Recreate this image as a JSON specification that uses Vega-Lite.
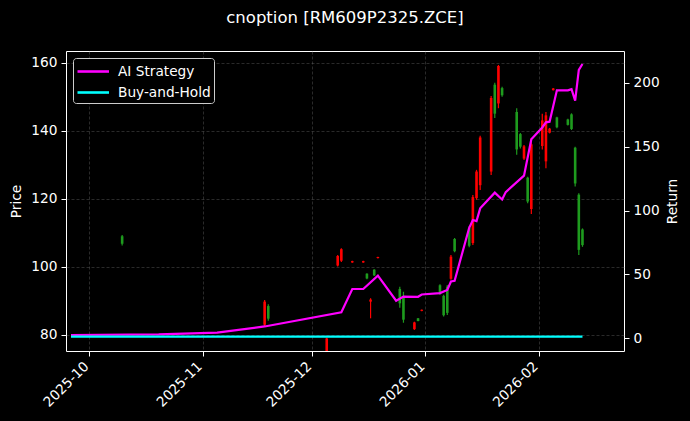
{
  "$schema": "https://vega.github.io/schema/vega-lite/v6.json",
  "width": 558,
  "height": 300,
  "autosize": {"type": "none"},
  "padding": {"left": 66, "top": 51, "right": 66, "bottom": 70},
  "background": "#000000",
  "title": {"text": "cnoption [RM609P2325.ZCE]", "anchor": "middle", "color": "white", "fontSize": 16.5, "font": "DejaVu Sans", "fontWeight": "normal", "offset": 12, "baseline": "alphabetic"},
  "datasets": {
    "candles": [
      {"date": "2025-10-10", "o": 109.0, "h": 109.4, "l": 106.3, "c": 106.8},
      {"date": "2025-11-18", "o": 83.0, "h": 90.3, "l": 82.6, "c": 89.8},
      {"date": "2025-11-19", "o": 88.5, "h": 89.0, "l": 84.2, "c": 84.8},
      {"date": "2025-12-05", "o": 74.0, "h": 79.2, "l": 73.0, "c": 79.0},
      {"date": "2025-12-08", "o": 100.4, "h": 103.5, "l": 100.1, "c": 103.2},
      {"date": "2025-12-09", "o": 101.8, "h": 105.5, "l": 101.4, "c": 105.2},
      {"date": "2025-12-12", "o": 101.3, "h": 101.8, "l": 101.2, "c": 101.7},
      {"date": "2025-12-15", "o": 101.3, "h": 101.8, "l": 101.2, "c": 101.7},
      {"date": "2025-12-16", "o": 98.0, "h": 98.1, "l": 96.4, "c": 96.6},
      {"date": "2025-12-17", "o": 89.8, "h": 90.8, "l": 84.9, "c": 90.4},
      {"date": "2025-12-18", "o": 99.2, "h": 99.3, "l": 97.3, "c": 97.5},
      {"date": "2025-12-19", "o": 102.6, "h": 103.0, "l": 102.5, "c": 102.9},
      {"date": "2025-12-25", "o": 93.5, "h": 94.2, "l": 88.0, "c": 89.3},
      {"date": "2025-12-26", "o": 91.5, "h": 92.7, "l": 83.6, "c": 84.5},
      {"date": "2025-12-29", "o": 81.7, "h": 83.9, "l": 81.5, "c": 83.7},
      {"date": "2025-12-30", "o": 84.9, "h": 85.0, "l": 84.0, "c": 84.1},
      {"date": "2025-12-31", "o": 87.1, "h": 87.5, "l": 87.0, "c": 87.4},
      {"date": "2026-01-05", "o": 94.6, "h": 94.9, "l": 91.8, "c": 92.0},
      {"date": "2026-01-06", "o": 91.5, "h": 91.8, "l": 85.4, "c": 85.8},
      {"date": "2026-01-07", "o": 94.2, "h": 94.7, "l": 85.9, "c": 86.5},
      {"date": "2026-01-08", "o": 96.5, "h": 103.5, "l": 96.2, "c": 103.0},
      {"date": "2026-01-09", "o": 108.2, "h": 108.5, "l": 104.3, "c": 104.6},
      {"date": "2026-01-13", "o": 111.5, "h": 112.0, "l": 105.8, "c": 106.2},
      {"date": "2026-01-14", "o": 107.0, "h": 121.1, "l": 106.4, "c": 120.5},
      {"date": "2026-01-15", "o": 120.2, "h": 128.5, "l": 119.7, "c": 128.0},
      {"date": "2026-01-16", "o": 124.0, "h": 138.5, "l": 122.6, "c": 138.0},
      {"date": "2026-01-19", "o": 128.0, "h": 150.2, "l": 127.0, "c": 149.6},
      {"date": "2026-01-20", "o": 153.5, "h": 154.1, "l": 143.7, "c": 145.0},
      {"date": "2026-01-21", "o": 148.0, "h": 159.3, "l": 146.6, "c": 159.0},
      {"date": "2026-01-22", "o": 152.5, "h": 152.9, "l": 150.0, "c": 150.4},
      {"date": "2026-01-26", "o": 145.5, "h": 146.6, "l": 132.9, "c": 134.5},
      {"date": "2026-01-27", "o": 139.0, "h": 139.3, "l": 134.8, "c": 135.3},
      {"date": "2026-01-28", "o": 131.8, "h": 135.8, "l": 131.4, "c": 135.4},
      {"date": "2026-01-29", "o": 126.2, "h": 126.5, "l": 118.7, "c": 119.2},
      {"date": "2026-01-30", "o": 117.0, "h": 137.8, "l": 115.5, "c": 136.0},
      {"date": "2026-02-02", "o": 135.5, "h": 145.0, "l": 134.5, "c": 143.0},
      {"date": "2026-02-03", "o": 131.0, "h": 145.5, "l": 129.0, "c": 144.5},
      {"date": "2026-02-04", "o": 139.4, "h": 140.8, "l": 139.2, "c": 140.6},
      {"date": "2026-02-05", "o": 151.9, "h": 152.5, "l": 151.8, "c": 152.4},
      {"date": "2026-02-06", "o": 143.9, "h": 144.1, "l": 140.7, "c": 141.0},
      {"date": "2026-02-09", "o": 143.3, "h": 143.5, "l": 141.5, "c": 141.7},
      {"date": "2026-02-10", "o": 144.8, "h": 145.1, "l": 140.2, "c": 140.5},
      {"date": "2026-02-11", "o": 135.0, "h": 135.3, "l": 123.6, "c": 124.5},
      {"date": "2026-02-12", "o": 121.2, "h": 121.6, "l": 103.5, "c": 105.0},
      {"date": "2026-02-13", "o": 111.0, "h": 111.3, "l": 105.9, "c": 106.4}
    ],
    "returns": [
      {"date": "2025-09-26", "series": "AI Strategy", "r": 2.6},
      {"date": "2025-10-20", "series": "AI Strategy", "r": 3.1},
      {"date": "2025-11-05", "series": "AI Strategy", "r": 4.5},
      {"date": "2025-11-18", "series": "AI Strategy", "r": 9.3},
      {"date": "2025-12-09", "series": "AI Strategy", "r": 20.4},
      {"date": "2025-12-12", "series": "AI Strategy", "r": 38.6},
      {"date": "2025-12-15", "series": "AI Strategy", "r": 38.6},
      {"date": "2025-12-19", "series": "AI Strategy", "r": 49.0},
      {"date": "2025-12-24", "series": "AI Strategy", "r": 29.4},
      {"date": "2025-12-26", "series": "AI Strategy", "r": 32.7},
      {"date": "2025-12-30", "series": "AI Strategy", "r": 32.5},
      {"date": "2025-12-31", "series": "AI Strategy", "r": 34.3},
      {"date": "2026-01-05", "series": "AI Strategy", "r": 35.4},
      {"date": "2026-01-07", "series": "AI Strategy", "r": 37.9},
      {"date": "2026-01-08", "series": "AI Strategy", "r": 44.5},
      {"date": "2026-01-09", "series": "AI Strategy", "r": 45.0},
      {"date": "2026-01-13", "series": "AI Strategy", "r": 86.5},
      {"date": "2026-01-14", "series": "AI Strategy", "r": 92.6},
      {"date": "2026-01-15", "series": "AI Strategy", "r": 91.7},
      {"date": "2026-01-16", "series": "AI Strategy", "r": 101.7},
      {"date": "2026-01-20", "series": "AI Strategy", "r": 114.0},
      {"date": "2026-01-22", "series": "AI Strategy", "r": 108.6},
      {"date": "2026-01-23", "series": "AI Strategy", "r": 114.4},
      {"date": "2026-01-28", "series": "AI Strategy", "r": 127.3},
      {"date": "2026-01-30", "series": "AI Strategy", "r": 155.8},
      {"date": "2026-02-02", "series": "AI Strategy", "r": 165.0},
      {"date": "2026-02-03", "series": "AI Strategy", "r": 169.0},
      {"date": "2026-02-04", "series": "AI Strategy", "r": 169.5},
      {"date": "2026-02-06", "series": "AI Strategy", "r": 194.0},
      {"date": "2026-02-09", "series": "AI Strategy", "r": 194.0},
      {"date": "2026-02-10", "series": "AI Strategy", "r": 195.0},
      {"date": "2026-02-11", "series": "AI Strategy", "r": 186.0},
      {"date": "2026-02-12", "series": "AI Strategy", "r": 210.0},
      {"date": "2026-02-13", "series": "AI Strategy", "r": 214.6},
      {"date": "2025-09-26", "series": "Buy-and-Hold", "r": 1.3},
      {"date": "2026-02-13", "series": "Buy-and-Hold", "r": 1.3}
    ]
  },
  "layer": [
    {
      "data": {"name": "candles"},
      "layer": [
        {
          "mark": {"type": "rule", "strokeWidth": 1.2, "clip": true},
          "encoding": {
            "x": {
              "field": "date", "type": "temporal",
              "scale": {"type": "utc", "domain": [{"year": 2025, "month": 9, "date": 26, "utc": true}, {"year": 2026, "month": 2, "date": 23, "utc": true}]},
              "axis": {
                "title": null, "labelExpr": "utcFormat(datum.value, '%Y-%m')", "labelAngle": -45, "labelAlign": "right", "labelBaseline": "top", "labelPadding": 3, "labelOffset": -8,
                "values": [
                  {"year": 2025, "month": 10, "date": 1, "utc": true},
                  {"year": 2025, "month": 11, "date": 1, "utc": true},
                  {"year": 2025, "month": 12, "date": 1, "utc": true},
                  {"year": 2026, "month": 1, "date": 1, "utc": true},
                  {"year": 2026, "month": 2, "date": 1, "utc": true}
                ]
              }
            },
            "y": {
              "field": "l", "type": "quantitative",
              "scale": {"domain": [75.3, 163.4], "nice": false, "zero": false},
              "axis": {"title": "Price", "values": [80, 90, 100, 110, 120, 130, 140, 150, 160], "titlePadding": 7, "labelPadding": 4}
            },
            "y2": {"field": "h"},
            "color": {"condition": {"test": "datum.c >= datum.o", "value": "#ff0000"}, "value": "#1e9b1e"}
          }
        },
        {
          "mark": {"type": "bar", "size": 2.6, "clip": true},
          "encoding": {
            "x": {"field": "date", "type": "temporal"},
            "y": {"field": "o", "type": "quantitative"},
            "y2": {"field": "c"},
            "color": {"condition": {"test": "datum.c >= datum.o", "value": "#ff0000"}, "value": "#1e9b1e"}
          }
        }
      ]
    },
    {
      "data": {"name": "returns"},
      "mark": {"type": "line", "strokeWidth": 2.2, "clip": true},
      "encoding": {
        "x": {"field": "date", "type": "temporal"},
        "y": {
          "field": "r", "type": "quantitative",
          "scale": {"domain": [-9.9, 224.8], "nice": false, "zero": false},
          "axis": {"orient": "right", "title": "Return", "titleAngle": 270, "titleBaseline": "top", "values": [0, 50, 100, 150, 200], "titlePadding": 6, "labelPadding": 4}
        },
        "color": {
          "field": "series", "type": "nominal",
          "scale": {"domain": ["AI Strategy", "Buy-and-Hold"], "range": ["#ff00ff", "#00ffff"]},
          "legend": {"title": null}
        }
      }
    }
  ],
  "resolve": {"scale": {"y": "independent"}, "axis": {"y": "independent"}},
  "config": {
    "view": {"stroke": "white", "strokeWidth": 1},
    "axis": {
      "grid": true, "gridColor": "#777777", "gridDash": [3, 2], "gridWidth": 0.6, "gridOpacity": 0.6,
      "domain": false, "tickColor": "white", "tickSize": 5, "tickWidth": 1,
      "labelColor": "white", "labelFont": "DejaVu Sans", "labelFontSize": 13.7,
      "titleColor": "white", "titleFont": "DejaVu Sans", "titleFontSize": 13.7, "titleFontWeight": "normal"
    },
    "legend": {
      "orient": "top-left", "offset": 7, "fillColor": "#000000", "strokeColor": "#cccccc", "cornerRadius": 3, "padding": 3,
      "labelColor": "white", "labelFont": "DejaVu Sans", "labelFontSize": 13.7,
      "symbolType": "M-1,0H2.5", "symbolSize": 324, "symbolStrokeWidth": 2.6, "rowPadding": 3, "labelOffset": 21
    }
  }
}
